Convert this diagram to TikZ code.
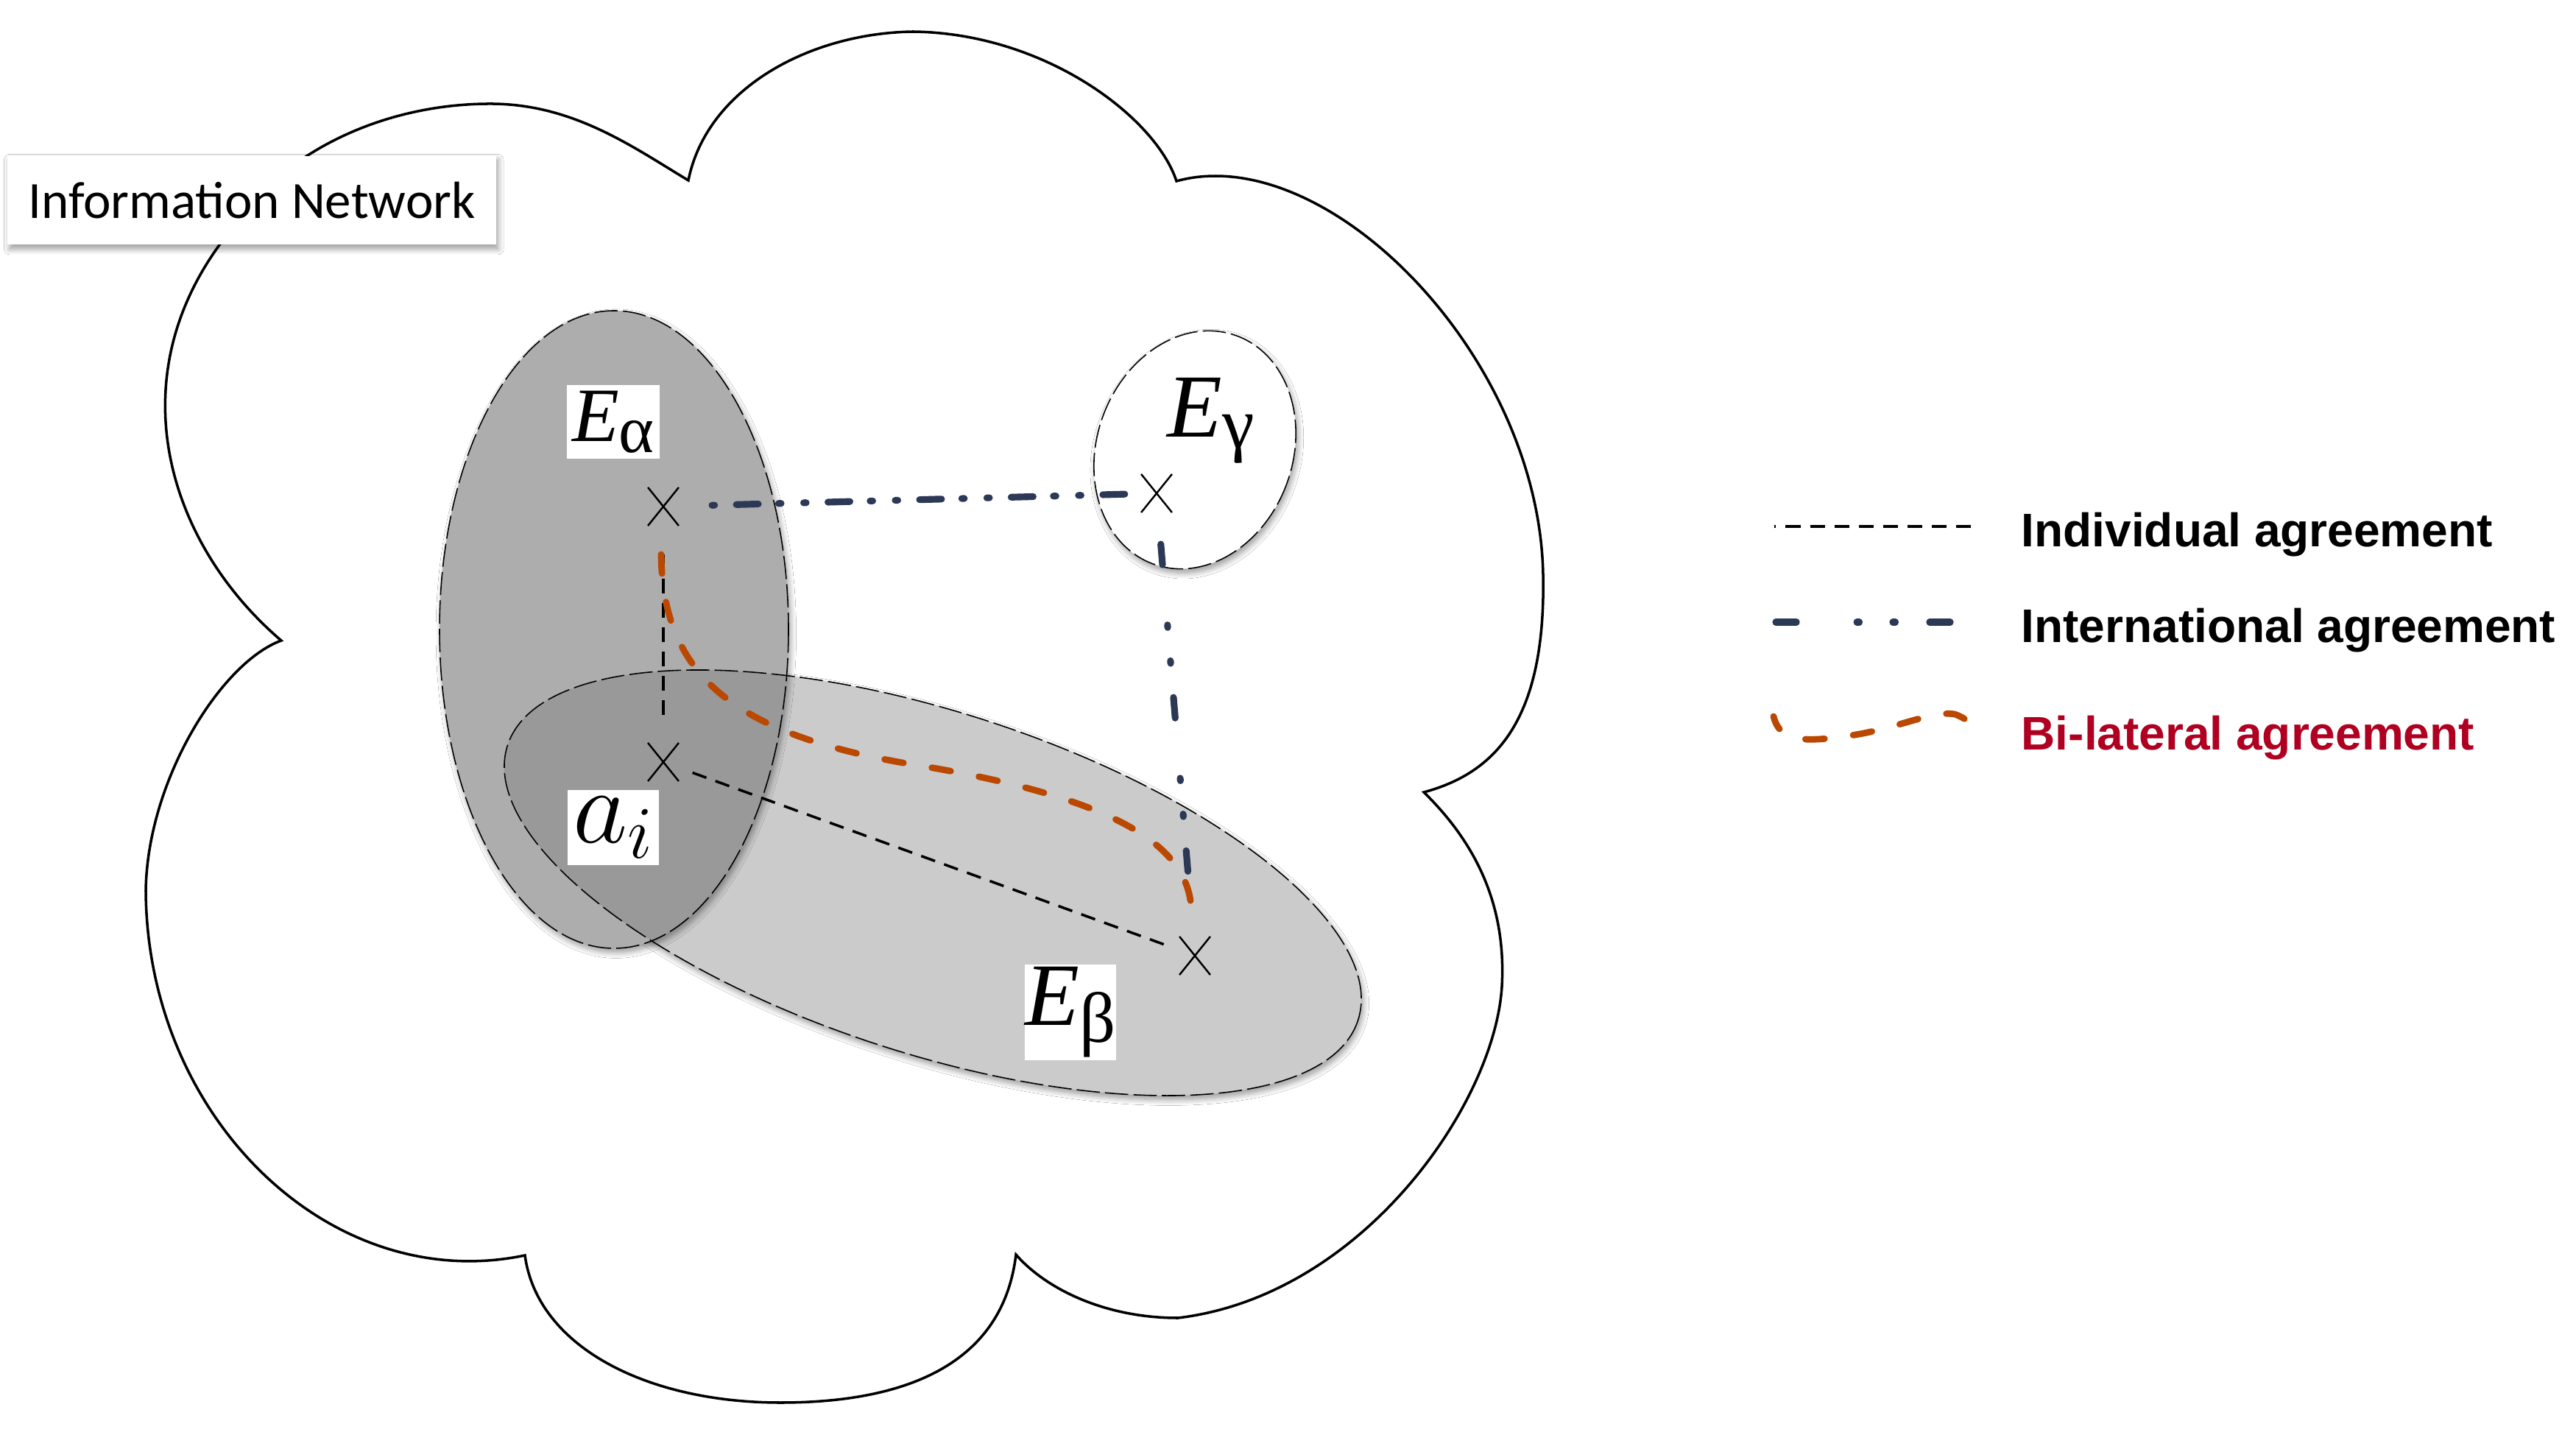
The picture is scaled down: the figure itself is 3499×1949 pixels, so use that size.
\RequirePackage{fix-cm}
\documentclass[tikz,border=0pt]{standalone}
\usepackage{fontspec}
\newfontfamily\infofont{Carlito}
\newfontfamily\legfont{Liberation Sans}
\newfontfamily\tnr{Liberation Serif}
\usetikzlibrary{shapes.misc,calc,shadows.blur}
\definecolor{navy}{RGB}{43,56,86}
\definecolor{bilatcol}{RGB}{187,72,0}
\definecolor{legred}{RGB}{176,0,33}
\definecolor{galpha}{RGB}{173,173,173}
\definecolor{gbeta}{RGB}{203,203,203}
\definecolor{goverlap}{RGB}{153,153,153}
\begin{document}
\begin{tikzpicture}[x=0.01cm,y=-0.01cm,
  cloudl/.style={draw=black, line width=1pt, line join=miter},
  ebord/.style={draw=black, line width=0.45pt, dash pattern=on 9pt off 2pt},
  eshadow/.style={blur shadow={shadow xshift=0.8pt, shadow yshift=-1.6pt, shadow blur radius=2.2pt, shadow blur steps=10, shadow opacity=40}},
  lbl/.style={fill=white, inner sep=0pt, outer sep=0pt},
  crossm/.style={draw, cross out, line width=0.7pt, minimum width=11.9pt, minimum height=14.8pt, inner sep=0pt, outer sep=0pt},
  indiv/.style={draw=black, line width=1pt, dash pattern=on 5.7pt off 3.7pt},
  intl/.style={draw=navy, line width=2.6pt, line cap=round, dash pattern=on 8pt off 23.3pt on 1pt off 12.9pt on 1pt off 13.2pt},
  intlh/.style={intl, dash pattern=on 1pt off 8.4pt on 8.5pt off 7.8pt on 1pt off 8.7pt},
  bilatl/.style={draw=bilatcol, line width=2.5pt, line cap=round, dash pattern=on 7.4pt off 11.1pt},
  legtxt/.style={anchor=base west, inner sep=0pt, font=\fontsize{18.2pt}{21pt}\legfont\bfseries}
]
\fill[white] (0,0) rectangle (3499,1949);
\useasboundingbox (0,0) rectangle (3499,1949);

% cloud
\draw[cloudl] (935,245) .. controls (960,120) and (1100,45) .. (1240,43)
 .. controls (1420,45) and (1570,160) .. (1598,246)
 .. controls (1800,190) and (2090,480) .. (2096,780)
 .. controls (2100,980) and (2030,1050) .. (1934,1076)
 .. controls (2020,1160) and (2045,1250) .. (2040,1340)
 .. controls (2030,1500) and (1850,1760) .. (1600,1790)
 .. controls (1500,1790) and (1420,1750) .. (1380,1704)
 .. controls (1360,1870) and (1200,1905) .. (1060,1905)
 .. controls (880,1905) and (730,1830) .. (713,1705)
 .. controls (450,1760) and (200,1520) .. (198,1210)
 .. controls (200,1060) and (300,900) .. (382,870)
 .. controls (230,740) and (160,520) .. (300,330)
 .. controls (380,200) and (530,140) .. (669,141)
 .. controls (780,142) and (860,200) .. (935,245) -- cycle;

% E beta (light) and E alpha (dark)
\path[fill=gbeta, eshadow, rotate around={-17.9:(1267,1199)}] (1267,1199) ellipse [x radius=607, y radius=232];
\path[fill=galpha, eshadow] (834,855) ellipse [x radius=237, y radius=433];
\begin{scope}
  \clip (834,855) ellipse [x radius=237, y radius=433];
  \fill[goverlap, rotate around={-17.9:(1267,1199)}] (1267,1199) ellipse [x radius=607, y radius=232];
\end{scope}
\draw[ebord, rotate around={-17.9:(1267,1199)}] (1267,1199) ellipse [x radius=607, y radius=232];
\draw[ebord] (834,855) ellipse [x radius=237, y radius=433];

% E gamma
\path[fill=white, eshadow, rotate around={-20:(1623,611)}] (1623,611) ellipse [x radius=133, y radius=165];
\draw[ebord, rotate around={-20:(1623,611)}] (1623,611) ellipse [x radius=133, y radius=165];

% Information Network label
\node[lbl, eshadow, minimum width=188.6pt, minimum height=34.4pt, font=\fontsize{20.2pt}{24pt}\infofont] (linfo) at (342,272) {Information Network};

% crosses
\node[crossm] (xa) at (901,688) {};
\node[crossm] (xi) at (901,1035) {};
\node[crossm] (xb) at (1623,1298) {};
\node[crossm] (xg) at (1571,670) {};

% connectors
\draw[indiv, shorten <=18.5pt, shorten >=17.9pt] (xa.center) -- (xi.center);
\draw[indiv, shorten <=12pt, shorten >=12pt] (xi.center) -- (xb.center);
\draw[intlh, shorten <=18.8pt, shorten >=12pt] (xa.center) -- (xg.center);
\draw[intl, shorten <=19.7pt, shorten >=32.5pt] (xg.center) -- (xb.center);
\draw[bilatl] ($(xa.center)+(-3,65)$) .. controls (900,920) and (1000,1000) .. (1250,1040)
  .. controls (1520,1085) and (1612,1150) .. ($(xb.center)+(-5,-66)$);

% labels
\node[lbl, minimum width=35.6pt, minimum height=28.5pt] (lalpha) at (833,573)
  {{\fontsize{29.7pt}{30pt}\tnr\itshape E}\raisebox{-4.3pt}{\fontsize{26pt}{26pt}\tnr α}};
\node[lbl, minimum width=35.3pt, minimum height=36.7pt] (lbeta) at (1454,1375)
  {{\fontsize{34.4pt}{34pt}\tnr\itshape E}\raisebox{-6.5pt}{\fontsize{27.5pt}{28pt}\tnr β}};
\node[lbl, minimum width=35.3pt, minimum height=35.3pt] (lgamma) at (1645,571)
  {{\fontsize{34.8pt}{35pt}\tnr\itshape E}\raisebox{-4.3pt}{\fontsize{28pt}{28pt}\tnr γ}};
\node[lbl, minimum width=35.3pt, minimum height=29pt] (lai) at (833,1124)
  {\fontsize{41pt}{41pt}\selectfont$a_i$};

% legend
\coordinate (l1a) at (2410,715); \coordinate (l1b) at (2685,715);
\coordinate (l2a) at (2412,845); \coordinate (l2b) at (2653,845);
\coordinate (l3a) at (2409,973); \coordinate (l3b) at (2684,997);
\draw[indiv, dash phase=5pt] (l1a) -- (l1b);
\draw[intl] (l2a) -- (l2b);
\draw[bilatl, dash phase=2pt] (l3a) .. controls (2418,1010) and (2455,1008) .. (2520,998)
  .. controls (2580,988) and (2625,965) .. (2655,970)
  .. controls (2670,975) and (2682,985) .. (l3b);
\node[legtxt] (leg1) at (2745,743) {Individual agreement};
\node[legtxt] (leg2) at (2745,873) {International agreement};
\node[legtxt, text=legred] (leg3) at (2745,1018) {Bi-lateral agreement};
\end{tikzpicture}
\end{document}
